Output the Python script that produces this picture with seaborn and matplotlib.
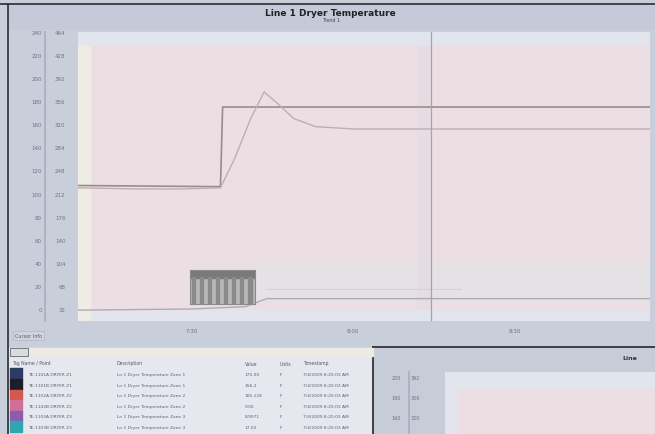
#Line 1 dryer temperature trend screen
import seaborn as sns
import matplotlib.pyplot as plt
from matplotlib.patches import Rectangle

sns.set_theme(style="white")
plt.rcParams['font.family'] = ['DejaVu Sans']

#data (minutes / deg)
time_sp = [9, 35.4, 35.8, 115]
temp_sp = [107, 106, 175, 175]

time_pv = [9, 20, 28, 35.4, 38, 41, 43.5, 46, 49, 53, 60, 80, 115]
temp_pv = [105, 104, 104, 105, 130, 165, 188, 178, 165, 158, 156, 156, 156]

time_low = [9, 30, 40, 44, 115]
temp_low = [-1, 0, 2, 9, 9]

time_aux = [44, 60, 80]
temp_aux = [17, 17, 17]

cursor_time = 74.4
left_ticks = [0, 20, 40, 60, 80, 100, 120, 140, 160, 180, 200, 220, 240]
right_ticks = [32, 68, 104, 140, 176, 212, 248, 284, 320, 356, 392, 428, 464]
x_ticks = [30, 60, 90]
x_labels = ["7:30", "8:00", "8:30"]

mini_ticks = [158, 179, 200]
mini_left = ["160", "180", "200"]
mini_right = ["320", "356", "392"]

tag_colors = ["#2e3b63", "#1e1e2a", "#d4584f", "#d0709a", "#8c5cae", "#2fa6b0"]
tag_names = ["TE-1101A DRYER Z1", "TE-1101B DRYER Z1", "TE-1102A DRYER Z2",
             "TE-1102B DRYER Z2", "TE-1103A DRYER Z3", "TE-1103B DRYER Z3"]
tag_desc = ["Ln 1 Dryer Temperature Zone 1", "Ln 1 Dryer Temperature Zone 1",
            "Ln 1 Dryer Temperature Zone 2", "Ln 1 Dryer Temperature Zone 2",
            "Ln 1 Dryer Temperature Zone 3", "Ln 1 Dryer Temperature Zone 3"]
tag_values = ["175.00", "156.2", "106.128", "9.00", "8.9971", "17.02"]
tag_units = ["F", "F", "F", "F", "F", "F"]
tag_times = ["7/4/2009 8:20:03 AM"] * 6

fig = plt.figure(figsize=(6.55, 4.35), dpi=100)
fig.patch.set_facecolor("#c9cedb")

# frame of the window
fig.add_artist(plt.Line2D([0, 1], [1 - 5/435] * 2, color="#2c2c30", lw=1.2))
fig.add_artist(plt.Line2D([8/655] * 2, [0, 1 - 5/435], color="#2c2c30", lw=1.2))
fig.add_artist(Rectangle((9/655, 1 - 30/435), 1, 24/435, color="#c4cad9", zorder=0))
fig.text(0.505, 1 - 13/435, "Line 1 Dryer Temperature", ha="center", va="center",
         fontsize=6.5, fontweight="bold", color="#222222")
fig.text(0.505, 1 - 21/435, "Trend 1", ha="center", va="center", fontsize=3.5, color="#444444")

# main trend axes
ax = fig.add_axes([78/655, 1 - 322/435, 572/655, 289/435])
ax.set_facecolor("#e2e5ee")
ax.add_patch(Rectangle((0.021, 0.04), 0.979, 0.91, transform=ax.transAxes,
                       color="#ecdfe3", zorder=0))
ax.add_patch(Rectangle((0.0, 0.0), 0.021, 0.95, transform=ax.transAxes,
                       color="#efece6", zorder=0))
ax.axhspan(4, 42, xmin=0.31, xmax=1, color="#e4e2e5", zorder=0.5, lw=0)

sns.lineplot(x=time_sp, y=temp_sp, ax=ax, color="#9a8b8e", lw=1.2, estimator=None)
sns.lineplot(x=time_pv, y=temp_pv, ax=ax, color="#c0adb3", lw=1.0, estimator=None)
sns.lineplot(x=time_low, y=temp_low, ax=ax, color="#b3aaad", lw=1.0, estimator=None)
sns.lineplot(x=time_aux, y=temp_aux, ax=ax, color="#d6d0d3", lw=0.8, estimator=None)
ax.axvline(cursor_time, color="#a4a4ad", lw=0.9)
ax.axvspan(cursor_time - 2.5, cursor_time, ymin=0.04, ymax=0.95, color="#e6dde3", zorder=0.6, lw=0)

ax.set_xlim(9, 115)
ax.set_ylim(-10.4, 240)
ax.set_xticks(x_ticks)
ax.set_xticklabels(x_labels)
ax.set_yticks(left_ticks)
ax.set_yticklabels([str(v) for v in right_ticks])
ax.tick_params(axis="both", labelsize=4, colors="#6d7385", length=0)
ax.tick_params(axis="y", pad=9)
ax.tick_params(axis="x", pad=5)
for s in ax.spines.values():
    s.set_visible(False)

sec = ax.secondary_yaxis(-0.058)
sec.set_yticks(left_ticks)
sec.tick_params(labelsize=4, colors="#6d7385", length=0, pad=2)
sec.spines["left"].set_color("#aab0c0")

# tooltip box near the step
tip = ax.inset_axes([0.196, 0.06, 0.113, 0.115])
tip.set_facecolor("#b9b9b9")
tip.set_xticks([])
tip.set_yticks([])
for s in tip.spines.values():
    s.set_color("#8a8a8a")
    s.set_linewidth(0.8)
tip.set_xlim(0, 8)
tip.set_ylim(0, 1)
tip.axhspan(0.78, 1, color="#7a7a7a")
for i in range(8):
    tip.axvspan(i + 0.2, i + 0.6, ymax=0.8, color="#8a8a8a")

# cursor button
fig.text(15/655, 1 - 338/435, "Cursor Info", fontsize=3.5, color="#555a66",
         bbox=dict(boxstyle="square,pad=0.4", fc="#cfd4e0", ec="#b0b5c2", lw=0.5))

# strip above table
fig.add_artist(Rectangle((9/655, 1 - 357/435), 364/655, 8/435, color="#edeae6"))
fig.add_artist(Rectangle((10/655, 1 - 357/435), 18/655, 8/435, fc="#d8dbe2", ec="#666666", lw=0.6))

# tag table
fig.add_artist(Rectangle((9/655, 0), 364/655, 78/435, color="#e6e8ef", zorder=0))
col_x = [28, 117, 245, 280, 303]
headers = ["Tag Name / Point", "Description", "Value", "Units", "Timestamp"]
for cx, h in zip(col_x, headers):
    fig.text((cx - 16 if cx == 28 else cx)/655, 1 - 364/435, h, fontsize=3.3,
             color="#555a68", va="center")
for i in range(6):
    yy = 1 - (375 + i * 10.6)/435
    fig.add_artist(Rectangle((10/655, yy - 5/435), 12/655, 10.6/435, color=tag_colors[i]))
    row = [tag_names[i], tag_desc[i], tag_values[i], tag_units[i], tag_times[i]]
    for cx, t in zip(col_x, row):
        fig.text(cx/655, yy, t, fontsize=3.2, color="#5d6273", va="center")

# second trend window
win = fig.add_axes([373/655, 0, 282/655, 87/435])
win.set_facecolor("#c7ccd9")
win.set_xticks([])
win.set_yticks([])
for k, s in win.spines.items():
    s.set_visible(k in ("left", "top"))
    s.set_color("#333338")
    s.set_linewidth(1.3)
win.text(0.91, 0.88, "Line", fontsize=4.5, fontweight="bold", color="#333333",
         transform=win.transAxes, ha="center", va="center")

mini = fig.add_axes([445/655, 0, 210/655, 62/435])
mini.set_facecolor("#e2e5ee")
mini.add_patch(Rectangle((0.06, 0), 0.94, 0.73, transform=mini.transAxes, color="#ecdfe3"))
mini.set_xticks([])
mini.set_ylim(140, 205)
mini.set_yticks(mini_ticks)
mini.set_yticklabels(mini_right)
mini.tick_params(labelsize=3.5, colors="#6d7385", length=0, pad=18)
for s in mini.spines.values():
    s.set_visible(False)
msec = mini.secondary_yaxis(-0.17)
msec.set_yticks(mini_ticks)
msec.set_yticklabels(mini_left)
msec.tick_params(labelsize=3.5, colors="#6d7385", length=0, pad=6)
msec.spines["left"].set_color("#aab0c0")

fig.savefig("out.png", dpi=100, facecolor=fig.get_facecolor())
